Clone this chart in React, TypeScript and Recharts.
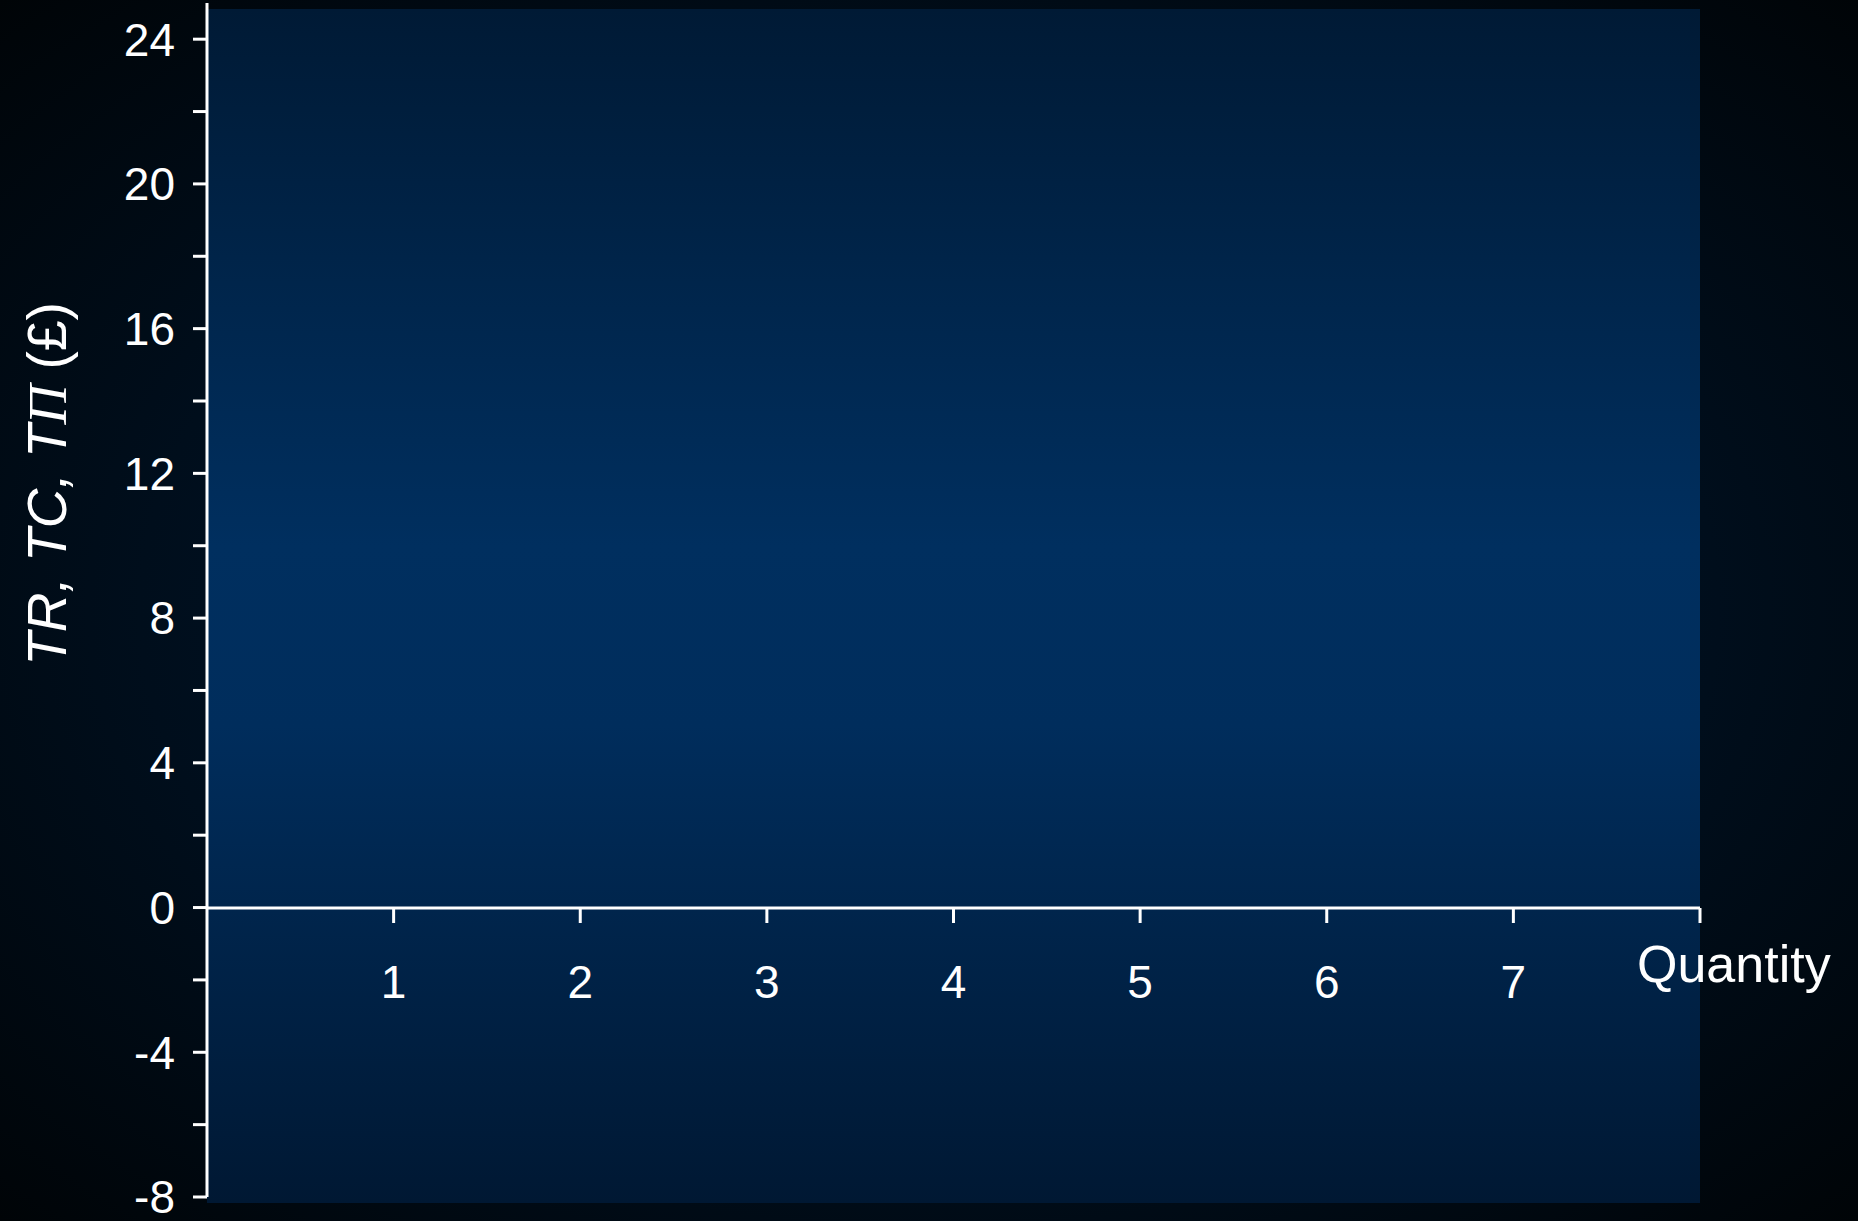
import React from "react";
import {
  ComposedChart,
  XAxis,
  YAxis,
  CartesianGrid,
} from "recharts";

// axis values
const quantities = [0, 1, 2, 3, 4, 5, 6, 7, 8];
const xTicks = [1, 2, 3, 4, 5, 6, 7, 8];
const yTicks = [-8, -6, -4, -2, 0, 2, 4, 6, 8, 10, 12, 14, 16, 18, 20, 22, 24];
const yDomain = [-8, 25];
const xDomain = [0, 8];

const W = 1858;
const H = 1221;
const FONT = '"Liberation Sans Narrow", "Liberation Sans", Arial, sans-serif';
const tickStyle = { fill: "#ffffff", fontSize: 46, fontFamily: FONT };

const data = quantities.map((q) => ({ q }));

const YLabel = (props: any) => {
  const vb = props.viewBox || {};
  const x = (vb.x ?? 0) + 47;
  const y = (vb.y ?? 0) + (vb.height ?? 0) / 2 - 116;
  return (
    <text
      x={x}
      y={y}
      transform={`rotate(-90 ${x} ${y})`}
      textAnchor="middle"
      dominantBaseline="central"
      fill="#ffffff"
      fontSize={55}
      fontFamily='"Liberation Sans", Arial, sans-serif'
    >
      <tspan fontStyle="italic">TR, TC, T</tspan>
      <tspan fontStyle="italic" fontFamily='"Liberation Serif", serif'>
        Π
      </tspan>
      <tspan> (£)</tspan>
    </text>
  );
};

const QuantityLabel = (props: any) => {
  const vb = props.viewBox || {};
  return (
    <text
      x={(vb.x ?? 0) + (vb.width ?? 0) - 63}
      y={(vb.y ?? 0) + 74}
      fill="#ffffff"
      fontSize={52}
      fontFamily='"Liberation Sans", Arial, sans-serif'
    >
      Quantity
    </text>
  );
};

export default function App() {
  return (
    <div
      style={{
        position: "absolute",
        left: 0,
        top: 0,
        width: W,
        height: H,
        background:
          "radial-gradient(ellipse at 50% 50%, #001a35 0%, #000e1c 60%, #000407 100%)",
        overflow: "hidden",
      }}
    >
      {/* plot area background + y axis */}
      <div style={{ position: "absolute", left: 0, top: 0 }}>
        <ComposedChart
          width={W}
          height={H}
          data={data}
          margin={{ top: 3, right: 158, bottom: 24, left: 0 }}
        >
          <defs>
            <linearGradient id="plotGrad" x1="0" y1="0" x2="0" y2="1">
              <stop offset="0%" stopColor="#001a35" />
              <stop offset="25%" stopColor="#00264d" />
              <stop offset="45%" stopColor="#002f5f" />
              <stop offset="60%" stopColor="#002d5c" />
              <stop offset="100%" stopColor="#001833" />
            </linearGradient>
          </defs>
          <CartesianGrid
            horizontal={false}
            vertical={false}
            y={9}
            height={1194}
            fill="url(#plotGrad)"
            stroke="none"
          />
          <XAxis dataKey="q" type="number" domain={xDomain} hide />
          <YAxis
            type="number"
            domain={yDomain}
            ticks={yTicks}
            interval={0}
            width={207}
            allowDataOverflow
            axisLine={{ stroke: "#ffffff", strokeWidth: 3 }}
            tickLine={{ stroke: "#ffffff", strokeWidth: 3 }}
            tickSize={14}
            tickMargin={18}
            tick={tickStyle}
            tickFormatter={(v: number) => (v % 4 === 0 ? String(v) : "")}
            label={<YLabel />}
          />
        </ComposedChart>
      </div>
      {/* x axis sitting on the zero line */}
      <div style={{ position: "absolute", left: 0, top: 0, pointerEvents: "none" }}>
        <ComposedChart
          width={W}
          height={H}
          data={data}
          margin={{ top: 3, right: 158, bottom: 0, left: 207 }}
        >
          <YAxis type="number" domain={[0, 25]} hide />
          <XAxis
            dataKey="q"
            type="number"
            domain={xDomain}
            ticks={xTicks}
            interval={0}
            height={313}
            axisLine={{ stroke: "#ffffff", strokeWidth: 3 }}
            tickLine={{ stroke: "#ffffff", strokeWidth: 3 }}
            tickSize={15}
            tickMargin={42}
            tick={tickStyle}
            tickFormatter={(v: number) => (v === 8 ? "" : String(v))}
            label={<QuantityLabel />}
          />
        </ComposedChart>
      </div>
    </div>
  );
}
